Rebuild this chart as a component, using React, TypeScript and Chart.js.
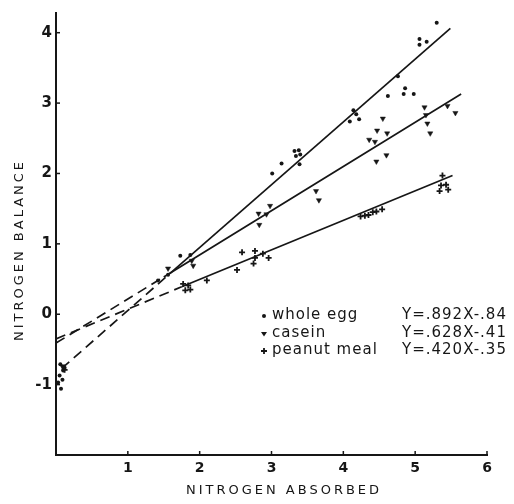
import React, { useEffect, useRef } from 'react';
import { Chart, registerables } from 'chart.js';

Chart.register(...registerables);

// ---- data ----
const xTicks = [1, 2, 3, 4, 5, 6];
const yTicks = [-1, 0, 1, 2, 3, 4];

const eggX = [0.03, 0.05, 0.06, 0.07, 0.09, 0.10, 0.12, 1.42, 1.56, 1.73, 1.87, 3.01, 3.14, 3.32, 3.38, 3.34, 3.40, 3.39, 4.09, 4.14, 4.18, 4.22, 4.62, 4.76, 4.84, 4.86, 4.98, 5.06, 5.06, 5.16, 5.30];
const eggY = [-0.97, -0.87, -0.71, -1.06, -0.93, -0.80, -0.76, 0.48, 0.56, 0.83, 0.84, 2.00, 2.14, 2.32, 2.33, 2.25, 2.27, 2.13, 2.74, 2.90, 2.84, 2.77, 3.10, 3.38, 3.13, 3.21, 3.13, 3.83, 3.91, 3.87, 4.14];

const caseinX = [0.09, 1.56, 1.89, 1.91, 2.82, 2.83, 2.93, 2.98, 3.62, 3.66, 4.36, 4.44, 4.46, 4.47, 4.55, 4.60, 4.61, 5.13, 5.15, 5.17, 5.21, 5.45, 5.56];
const caseinY = [-0.74, 0.65, 0.76, 0.69, 1.43, 1.27, 1.42, 1.54, 1.75, 1.62, 2.48, 2.45, 2.17, 2.61, 2.78, 2.26, 2.57, 2.94, 2.83, 2.71, 2.57, 2.96, 2.86];

const peanutX = [0.12, 1.77, 1.84, 1.80, 1.87, 2.10, 2.52, 2.59, 2.77, 2.88, 2.75, 2.77, 2.96, 4.24, 4.30, 4.35, 4.41, 4.46, 4.54, 5.34, 5.36, 5.38, 5.43, 5.46];
const peanutY = [-0.79, 0.43, 0.41, 0.34, 0.35, 0.48, 0.63, 0.88, 0.90, 0.86, 0.72, 0.80, 0.80, 1.39, 1.40, 1.41, 1.45, 1.46, 1.49, 1.75, 1.83, 1.97, 1.84, 1.77];

// fitted lines: start (dashed part), dash end, solid end
const eggLineX = [0.08, 1.6, 5.49];
const eggLineY = [-0.77, 0.59, 4.06];
const caseinLineX = [0, 1.5, 5.64];
const caseinLineY = [-0.41, 0.53, 3.13];
const peanutLineX = [0, 1.75, 5.52];
const peanutLineY = [-0.35, 0.39, 1.97];

const legendNames = ['whole egg', 'casein', 'peanut meal'];
const legendEquations = ['Y=.892X-.84', 'Y=.628X-.41', 'Y=.420X-.35'];
const xTitle = 'NITROGEN ABSORBED';
const yTitle = 'NITROGEN BALANCE';

const INK = '#161616';
const FONT = '"DejaVu Sans", sans-serif';

function drawMarker(ctx: CanvasRenderingContext2D, kind: number, x: number, y: number) {
  ctx.save();
  ctx.fillStyle = INK;
  ctx.strokeStyle = INK;
  if (kind === 0) {
    ctx.beginPath();
    ctx.arc(x, y, 2, 0, Math.PI * 2);
    ctx.fill();
  } else if (kind === 1) {
    ctx.beginPath();
    ctx.moveTo(x - 3, y - 2);
    ctx.lineTo(x + 3, y - 2);
    ctx.lineTo(x, y + 2.5);
    ctx.closePath();
    ctx.fill();
  } else {
    ctx.lineWidth = 1.8;
    ctx.beginPath();
    ctx.moveTo(x - 3, y);
    ctx.lineTo(x + 3, y);
    ctx.moveTo(x, y - 3);
    ctx.lineTo(x, y + 3);
    ctx.stroke();
  }
  ctx.restore();
}

const decorPlugin = {
  id: 'decor',
  afterDraw(chart: any) {
    const ctx: CanvasRenderingContext2D = chart.ctx;
    const xs = chart.scales.x;
    const ys = chart.scales.y;
    const area = chart.chartArea;
    ctx.save();
    ctx.strokeStyle = INK;
    ctx.lineWidth = 1.5;
    // inside tick marks
    yTicks.forEach((v) => {
      const py = ys.getPixelForValue(v);
      ctx.beginPath();
      ctx.moveTo(area.left, py);
      ctx.lineTo(area.left + 4, py);
      ctx.stroke();
    });
    xTicks.forEach((v) => {
      const px = xs.getPixelForValue(v);
      ctx.beginPath();
      ctx.moveTo(px, area.bottom);
      ctx.lineTo(px, area.bottom - 4);
      ctx.stroke();
    });

    // axis titles
    ctx.fillStyle = INK;
    ctx.textAlign = 'center';
    ctx.textBaseline = 'middle';
    ctx.font = `500 13px ${FONT}`;
    (ctx as any).letterSpacing = '3px';
    ctx.fillText(xTitle, 284, 491);
    ctx.save();
    ctx.translate(20, 250);
    ctx.rotate(-Math.PI / 2);
    ctx.fillText(yTitle, 0, 0);
    ctx.restore();

    // legend
    const rowsY = [315, 333, 350];
    ctx.textAlign = 'left';
    legendNames.forEach((name, i) => {
      drawMarker(ctx, i, 264, rowsY[i] + 1);
      ctx.font = `15px ${FONT}`;
      (ctx as any).letterSpacing = '1px';
      ctx.fillText(name, 272, rowsY[i]);
      ctx.fillText(legendEquations[i], 402, rowsY[i]);
    });
    ctx.restore();
  },
};

export default function App() {
  const ref = useRef<HTMLCanvasElement>(null);
  useEffect(() => {
    const pts = (xs: number[], ys: number[]) => xs.map((x, i) => ({ x, y: ys[i] }));
    const lineDs = (label: string, xs: number[], ys: number[]) => ({
      label,
      data: pts(xs, ys),
      showLine: true,
      borderColor: INK,
      borderWidth: 1.7,
      pointRadius: 0,
      pointHoverRadius: 0,
      fill: false,
      tension: 0,
      segment: {
        borderDash: (c: any) => (c.p0DataIndex === 0 ? [10, 6] : undefined),
      },
    });
    const chart = new Chart(ref.current as HTMLCanvasElement, {
      type: 'scatter',
      data: {
        datasets: [
          lineDs('whole egg fit', eggLineX, eggLineY),
          lineDs('casein fit', caseinLineX, caseinLineY),
          lineDs('peanut meal fit', peanutLineX, peanutLineY),
          {
            label: 'whole egg',
            data: pts(eggX, eggY),
            pointStyle: 'circle',
            pointRadius: 2,
            backgroundColor: INK,
            borderColor: INK,
            borderWidth: 0,
          },
          {
            label: 'casein',
            data: pts(caseinX, caseinY),
            pointStyle: 'triangle',
            rotation: 180,
            pointRadius: 3,
            backgroundColor: INK,
            borderColor: INK,
            borderWidth: 0.5,
          },
          {
            label: 'peanut meal',
            data: pts(peanutX, peanutY),
            pointStyle: 'cross',
            pointRadius: 3,
            backgroundColor: INK,
            borderColor: INK,
            borderWidth: 1.8,
          },
        ] as any,
      },
      options: {
        responsive: false,
        animation: false,
        events: [],
        layout: { padding: { top: 5, right: 27, left: 0, bottom: 0 } },
        plugins: { legend: { display: false }, tooltip: { enabled: false } },
        scales: {
          x: {
            type: 'linear',
            min: 0,
            max: 6,
            afterBuildTicks: (s: any) => {
              s.ticks = xTicks.map((v) => ({ value: v }));
            },
            afterFit: (s: any) => {
              s.height = 49;
            },
            grid: { display: false, drawTicks: false },
            border: { display: true, color: INK, width: 2 },
            ticks: {
              color: INK,
              padding: 5,
              font: { family: FONT, size: 14, weight: 'bold' },
              maxRotation: 0,
              callback: (v: any) => String(v),
            },
          },
          y: {
            type: 'linear',
            min: -2,
            max: 4.28,
            afterBuildTicks: (s: any) => {
              s.ticks = yTicks.map((v) => ({ value: v }));
            },
            afterFit: (s: any) => {
              s.width = 56;
            },
            grid: { display: false, drawTicks: false },
            border: { display: true, color: INK, width: 2 },
            ticks: {
              color: INK,
              padding: 4,
              font: { family: FONT, size: 15, weight: 'bold' },
              callback: (v: any) => String(v),
            },
          },
        },
      } as any,
      plugins: [decorPlugin],
    });
    return () => chart.destroy();
  }, []);
  return (
    <div style={{ position: 'fixed', left: 0, top: 0, width: 514, height: 504, background: '#fff' }}>
      <canvas ref={ref} width={514} height={504} style={{ display: 'block' }} />
    </div>
  );
}
